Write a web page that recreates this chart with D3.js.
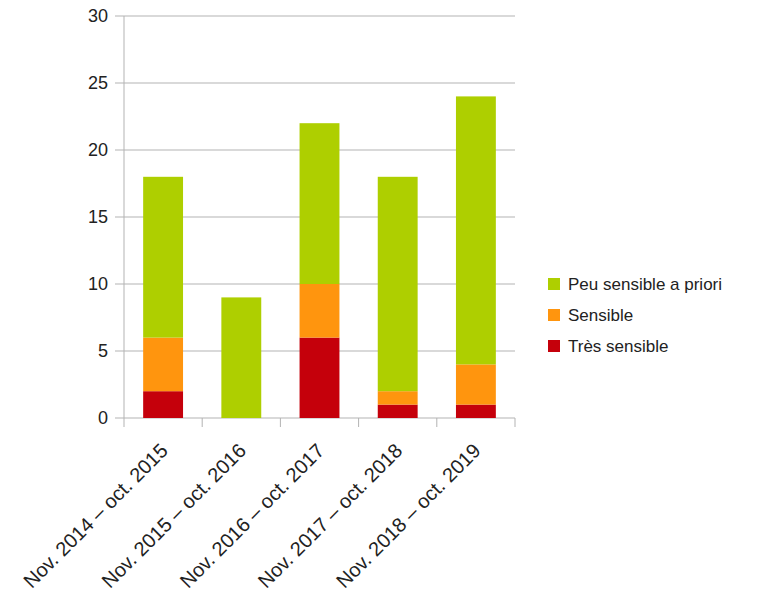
<!DOCTYPE html>
<html>
<head>
<meta charset="utf-8">
<script src="https://cdn.jsdelivr.net/npm/d3@7"></script>
<style>
  body { margin: 0; background: #fff; }
  svg text { font-family: "Liberation Sans", Arial, sans-serif; fill: #222; }
</style>
</head>
<body>
<svg id="chart" width="782" height="603"></svg>
<script>
const categories = [
    "Nov. 2014 – oct. 2015",
    "Nov. 2015 – oct. 2016",
    "Nov. 2016 – oct. 2017",
    "Nov. 2017 – oct. 2018",
    "Nov. 2018 – oct. 2019",
]
const tresSensible = [2, 0, 6, 1, 1]
const sensible = [4, 0, 4, 1, 3]
const peuSensible = [12, 9, 12, 16, 20]
const yTicks = [0, 5, 10, 15, 20, 25, 30]

const seriesDefs = [
    { key: "tres", label: "Très sensible", values: tresSensible, colour: "#c5000b" },
    { key: "sens", label: "Sensible", values: sensible, colour: "#ff950e" },
    { key: "peu", label: "Peu sensible a priori", values: peuSensible, colour: "#aecf00" },
]

const rows = categories.map((cat, i) => {
    const row = { cat }
    seriesDefs.forEach((s) => (row[s.key] = s.values[i]))
    return row
})

const svg = d3.select("#chart")
const margin = { left: 124, top: 16, right: 267, bottom: 185 }
const width = 782 - margin.left - margin.right
const height = 603 - margin.top - margin.bottom

const g = svg.append("g").attr("transform", `translate(${margin.left}, ${margin.top})`)

const x = d3.scaleBand().domain(categories).range([0, width]).paddingInner(0.49).paddingOuter(0.245)
const y = d3.scaleLinear().domain([0, 30]).range([height, 0])

const gridColour = "#b3b3b3"

// horizontal grid with outward ticks
g.append("g")
    .selectAll("line")
    .data(yTicks)
    .join("line")
    .attr("x1", -9)
    .attr("x2", width)
    .attr("y1", (d) => y(d))
    .attr("y2", (d) => y(d))
    .attr("stroke", gridColour)
    .attr("stroke-width", 1)

g.append("g")
    .selectAll("text")
    .data(yTicks)
    .join("text")
    .attr("x", -16)
    .attr("y", (d) => y(d))
    .attr("dy", "0.35em")
    .attr("text-anchor", "end")
    .attr("font-size", 18)
    .text((d) => d)

// left axis line
g.append("line").attr("x1", 0).attr("x2", 0).attr("y1", 0).attr("y2", height)
    .attr("stroke", gridColour)

// category boundary ticks
const boundaries = d3.range(categories.length + 1).map((i) => i * width / categories.length)
g.append("g")
    .selectAll("line")
    .data(boundaries)
    .join("line")
    .attr("x1", (d) => d)
    .attr("x2", (d) => d)
    .attr("y1", height)
    .attr("y2", height + 9)
    .attr("stroke", gridColour)

const stack = d3.stack().keys(seriesDefs.map((s) => s.key))(rows)

stack.forEach((layer, li) => {
    g.append("g")
        .attr("fill", seriesDefs[li].colour)
        .selectAll("rect")
        .data(layer)
        .join("rect")
        .attr("x", (d) => x(d.data.cat))
        .attr("width", x.bandwidth())
        .attr("y", (d) => y(d[1]))
        .attr("height", (d) => y(d[0]) - y(d[1]))
})

// rotated category labels
g.append("g")
    .selectAll("text")
    .data(categories)
    .join("text")
    .attr("transform", (d) => `translate(${x(d) + x.bandwidth() / 2 + 6}, ${height + 34}) rotate(-45)`)
    .attr("text-anchor", "end")
    .attr("font-size", 20)
    .text((d) => d)

// legend
const legendItems = seriesDefs.slice().reverse()
const legend = svg.append("g").attr("transform", "translate(548, 284)")
const li = legend.selectAll("g").data(legendItems).join("g")
    .attr("transform", (d, i) => `translate(0, ${i * 31})`)
li.append("rect").attr("x", 0).attr("y", -6).attr("width", 12).attr("height", 12)
    .attr("fill", (d) => d.colour)
li.append("text").attr("x", 20).attr("y", 0).attr("dy", "0.35em")
    .attr("font-size", 17).text((d) => d.label)
</script>
</body>
</html>
